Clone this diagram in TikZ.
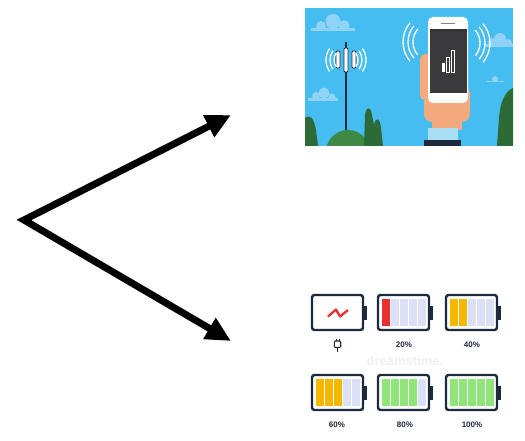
\documentclass[tikz,border=0pt]{standalone}
\usepackage{fontspec}
\setmainfont{Liberation Sans}
\usetikzlibrary{arrows.meta}

\definecolor{sky}{HTML}{45BDF0}
\definecolor{cloud}{HTML}{8FD4F6}
\definecolor{navy}{HTML}{1C2B3C}
\definecolor{bushdark}{HTML}{2C6A38}
\definecolor{bushlight}{HTML}{3E8A44}
\definecolor{skin}{HTML}{F5A97F}
\definecolor{cuff}{HTML}{A9DDF4}
\definecolor{screen}{HTML}{3A3A3C}
\definecolor{cellempty}{HTML}{DCE0F6}
\definecolor{cellred}{HTML}{E8312F}
\definecolor{cellorange}{HTML}{F6B700}
\definecolor{cellgreen}{HTML}{8FE47A}

\tikzset{
  bigarrow/.style={line width=7pt, line join=miter,
    {Triangle[length=25pt,width=23pt]}-{Triangle[length=25pt,width=23pt]}},
  wave/.style={white, line width=1.3pt},
  cloudfill/.style={fill=cloud},
  battbody/.style={draw=navy, line width=2.4pt, rounded corners=2.5pt, fill=white},
  celldraw/.style={draw=white, line width=1pt},
  pct/.style={font=\bfseries\fontsize{8}{8}\selectfont, text=navy, inner sep=0pt}
}

% one battery: left x, top y, number of filled cells, fill colour
\newcommand\batt[4]{%
  \begin{scope}[shift={(#1,#2)}]
    \fill[navy] (50,10.5) rectangle (54.5,24.5);
    \draw[battbody] (0,0) rectangle (51,35);
    \foreach \k in {1,...,5}{
      \pgfmathsetmacro\xa{3+(\k-1)*9}
      \ifnum\k>#3\relax
        \fill[cellempty, celldraw] (\xa,3.2) rectangle ++(9,28.6);
      \else
        \fill[#4, celldraw] (\xa,3.2) rectangle ++(9,28.6);
      \fi
    }
  \end{scope}}

\begin{document}
\begin{tikzpicture}[x=1pt,y=-1pt]
\useasboundingbox (0,0) rectangle (525,441);
\fill[white] (0,0) rectangle (525,441);

% ---------- signal picture ----------
\node[inner sep=0, minimum width=208pt, minimum height=138pt] (phonepic) at (409,77) {};
\begin{scope}
  \clip (305,8) rectangle (513,146);
  \fill[sky] (305,8) rectangle (513,146);
  % clouds
  \fill[cloudfill] (311,28) rectangle (355,31);
  \fill[cloudfill] (321,26) circle[radius=5];
  \fill[cloudfill] (333,21.5) circle[radius=7.5];
  \fill[cloudfill] (344,25.5) circle[radius=5.5];
  \fill[cloudfill] (308,98.5) rectangle (338,101);
  \fill[cloudfill] (316,96) circle[radius=4];
  \fill[cloudfill] (324,93) circle[radius=5.5];
  \fill[cloudfill] (332,97) circle[radius=3.5];
  \fill[cloudfill] (484,44.5) rectangle (515,47);
  \fill[cloudfill] (492,42) circle[radius=4];
  \fill[cloudfill] (500,39) circle[radius=6];
  \fill[cloudfill] (508,43) circle[radius=4];
  \fill[cloudfill] (486,81) rectangle (504,82.5);
  \fill[cloudfill] (495,79) circle[radius=3];
  % tower
  \draw[navy, line width=2pt] (346,42) -- (346,140);
  \foreach \xx/\ya/\yb in {338/51/68, 346/48/72, 354/51/68}
    \draw[navy, fill=white, line width=0.8pt, rounded corners=1pt] (\xx-2,\ya) rectangle (\xx+2,\yb);
  \foreach \r in {12,16,20}{
    \draw[wave] (346,60) ++(145:\r) arc[start angle=145,end angle=215,radius=\r];
    \draw[wave] (346,60) ++(-35:\r) arc[start angle=-35,end angle=35,radius=\r];
  }
  % greenery
  \fill[bushdark] (305,118) .. controls (310,114) and (314,118) .. (316,130) -- (318,146) -- (305,146) -- cycle;
  \fill[bushlight] (348,152) circle[radius=22];
  \fill[bushdark] (364,146) -- (365,115) .. controls (366,106) and (371,106) .. (372,115) -- (374,125)
     .. controls (376,116) and (380,118) .. (381,128) -- (383,146) -- cycle;
  \fill[bushdark] (513,88) .. controls (504,92) and (500,104) .. (499,118) -- (497,146) -- (513,146) -- cycle;
  % hand
  \fill[skin, rounded corners=5pt] (420,54) rectangle (433,100);
  \fill[skin, rounded corners=8pt] (424,86) rectangle (470,122);
  \fill[skin] (432,112) rectangle (462,130);
  \fill[cuff] (428,128) rectangle (458,140);
  \fill[navy] (424,140) rectangle (461,148);
  % phone
  \fill[white, rounded corners=5pt] (428,17) rectangle (468,103);
  \fill[screen] (430,29) rectangle (467,93);
  \fill[black!80] (430,29) rectangle (467,32);
  \draw[gray, line width=1pt] (441,24) -- (455,24);
  \fill[white] (442,63) rectangle (444.5,72);
  \draw[white, line width=0.5pt] (446.5,57) rectangle (449,72);
  \draw[white, line width=0.5pt] (451,50) rectangle (454,72);
  \foreach \r in {20,25,30}{
    \draw[wave] (433,42) ++(140:\r) arc[start angle=140,end angle=220,radius=\r];
    \draw[wave] (460,43) ++(-40:\r) arc[start angle=-40,end angle=40,radius=\r];
  }
\end{scope}

% ---------- battery picture ----------
\node[inner sep=0, minimum width=208pt, minimum height=150pt] (battpic) at (409,363) {};
\node[text=gray!12, font=\bfseries\fontsize{13}{13}\selectfont] (mark) at (405,361) {dreamstime.};

% charging battery
\draw[battbody] (312,295) rectangle (363,330);
\fill[navy] (362,305.5) rectangle (366.5,319.5);
\draw[cellred, line width=2.3pt, line join=round] (328,316.5) -- (336,309.5) -- (340,316.5) -- (348,310);
% plug icon
\draw[navy, line width=1pt] (336,338.5) -- (336,341) (339,338.5) -- (339,341);
\draw[navy, line width=1.1pt, rounded corners=1pt] (334.3,341) rectangle (340.7,347.5);
\draw[navy, line width=1.1pt] (337.5,347.5) -- (337.5,351.5);

\batt{378}{295}{1}{cellred}
\batt{446}{295}{2}{cellorange}
\batt{312}{375}{3}{cellorange}
\batt{378}{375}{4}{cellgreen}
\batt{446}{375}{5}{cellgreen}

\node[pct] (l20) at (404,345) {20\%};
\node[pct] (l40) at (472,345) {40\%};
\node[pct] (l60) at (337,425) {60\%};
\node[pct] (l80) at (405,425) {80\%};
\node[pct] (l100) at (472,425) {100\%};

% ---------- arrows ----------
\coordinate (ta) at (231,115);
\coordinate (o) at (24,220);
\coordinate (tb) at (231,341);
\draw[bigarrow] (ta) -- (o) -- (tb);
\end{tikzpicture}
\end{document}
